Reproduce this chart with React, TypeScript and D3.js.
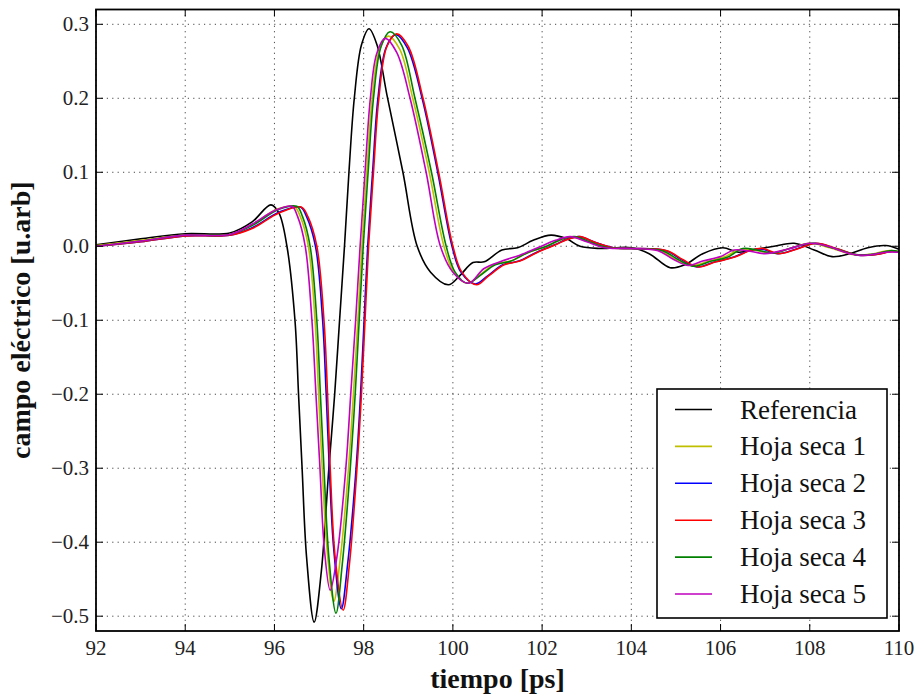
import React from "react";
import * as d3 from "d3";

const W = 918;
const H = 696;

const xTicks = [92, 94, 96, 98, 100, 102, 104, 106, 108, 110];
const yTicks = [0.3, 0.2, 0.1, 0.0, -0.1, -0.2, -0.3, -0.4, -0.5];

const seriesNames = ["Referencia", "Hoja seca 1", "Hoja seca 2", "Hoja seca 3", "Hoja seca 4", "Hoja seca 5"];
const seriesColors = ["#000000", "#bfbf00", "#0000ff", "#ff0000", "#008000", "#bf00bf"];

const referencia: [number, number][] = [
  [92, 0.002], [93, 0.010], [94, 0.017], [95, 0.018], [95.5, 0.033], [95.92, 0.056], [96.1, 0.045],
  [96.28, 0.0], [96.46, -0.1], [96.54, -0.2], [96.62, -0.3], [96.72, -0.42], [96.89, -0.508], [97.05, -0.44],
  [97.22, -0.3], [97.35, -0.2], [97.46, -0.1], [97.57, 0.0], [97.67, 0.1], [97.79, 0.2], [97.95, 0.272],
  [98.12, 0.294], [98.3, 0.272], [98.52, 0.205], [98.88, 0.1], [99.2, 0.0], [99.5, -0.035], [99.9, -0.052],
  [100.15, -0.04], [100.45, -0.022], [100.7, -0.021], [101.1, -0.005], [101.45, -0.002], [101.8, 0.008],
  [102.2, 0.015], [102.55, 0.01], [102.85, 0.0], [103.3, -0.003], [104.0, -0.002], [104.4, -0.01],
  [104.87, -0.029], [105.2, -0.025], [105.6, -0.01], [106.05, -0.002], [106.4, -0.008], [106.8, -0.004],
  [107.2, 0.0], [107.65, 0.004], [108.1, -0.005], [108.5, -0.014], [108.9, -0.01], [109.3, -0.002],
  [109.7, 0.001], [110, -0.004],
];

const hoja1: [number, number][] = [
  [92, 0.001], [93, 0.008], [94, 0.015], [95, 0.016], [95.5, 0.029], [96.05, 0.05], [96.45, 0.053],
  [96.58, 0.04], [96.76, 0.0], [96.91, -0.1], [96.99, -0.2], [97.07, -0.3], [97.18, -0.41], [97.33, -0.48],
  [97.47, -0.425], [97.66, -0.3], [97.77, -0.2], [97.87, -0.1], [97.96, 0.0], [98.07, 0.1], [98.19, 0.2],
  [98.35, 0.265], [98.55, 0.284], [98.81, 0.266], [99.1, 0.2], [99.47, 0.1], [99.8, 0.0], [100.02, -0.035],
  [100.33, -0.05], [100.62, -0.038], [100.95, -0.024], [101.3, -0.02], [101.7, -0.008], [102.1, 0.0],
  [102.45, 0.009], [102.7, 0.012], [103.1, 0.005], [103.5, -0.002], [104.0, -0.003], [104.65, -0.006],
  [105.0, -0.018], [105.35, -0.026], [105.75, -0.02], [106.1, -0.014], [106.45, -0.004], [106.75, -0.005],
  [107.15, -0.009], [107.55, -0.003], [108.0, 0.004], [108.45, -0.002], [108.95, -0.011], [109.35, -0.011],
  [109.75, -0.006], [110, -0.007],
];

const hoja2: [number, number][] = [
  [92, 0.0], [93, 0.006], [94, 0.014], [95, 0.015], [95.5, 0.025], [96.1, 0.046], [96.58, 0.053],
  [96.72, 0.04], [96.92, 0.0], [97.08, -0.1], [97.16, -0.2], [97.23, -0.3], [97.33, -0.41], [97.5, -0.49],
  [97.64, -0.43], [97.83, -0.3], [97.93, -0.2], [98.01, -0.1], [98.09, 0.0], [98.2, 0.1], [98.32, 0.2],
  [98.5, 0.268], [98.72, 0.286], [98.98, 0.268], [99.31, 0.2], [99.66, 0.1], [99.98, 0.0], [100.18, -0.035],
  [100.5, -0.051], [100.78, -0.04], [101.12, -0.025], [101.48, -0.02], [101.88, -0.008], [102.28, 0.002],
  [102.58, 0.01], [102.83, 0.013], [103.2, 0.005], [103.6, -0.002], [104.0, -0.003], [104.78, -0.006],
  [105.12, -0.018], [105.47, -0.028], [105.88, -0.021], [106.28, -0.015], [106.68, -0.005], [106.93, -0.004],
  [107.28, -0.01], [107.68, -0.004], [108.12, 0.004], [108.58, -0.003], [109.08, -0.012], [109.48, -0.011],
  [109.83, -0.007], [110, -0.008],
];

const hoja3: [number, number][] = [
  [92, 0.0], [93, 0.006], [94, 0.014], [95, 0.015], [95.5, 0.024], [96.1, 0.045], [96.6, 0.053],
  [96.75, 0.04], [96.95, 0.0], [97.11, -0.1], [97.19, -0.2], [97.25, -0.3], [97.36, -0.42], [97.54, -0.492],
  [97.68, -0.43], [97.85, -0.3], [97.95, -0.2], [98.03, -0.1], [98.11, 0.0], [98.22, 0.1], [98.34, 0.2],
  [98.52, 0.27], [98.74, 0.287], [99.0, 0.27], [99.33, 0.2], [99.68, 0.1], [100.0, 0.0], [100.2, -0.035],
  [100.53, -0.052], [100.8, -0.04], [101.15, -0.025], [101.5, -0.02], [101.9, -0.008], [102.3, 0.002],
  [102.6, 0.01], [102.85, 0.013], [103.2, 0.005], [103.6, -0.002], [104.0, -0.003], [104.8, -0.006],
  [105.15, -0.018], [105.5, -0.028], [105.9, -0.021], [106.3, -0.015], [106.7, -0.005], [106.95, -0.003],
  [107.3, -0.01], [107.7, -0.004], [108.15, 0.004], [108.6, -0.003], [109.1, -0.012], [109.5, -0.011],
  [109.85, -0.007], [110, -0.008],
];

const hoja4: [number, number][] = [
  [92, 0.0], [93, 0.007], [94, 0.015], [95, 0.016], [95.5, 0.028], [96.1, 0.05], [96.5, 0.054],
  [96.63, 0.04], [96.8, 0.0], [96.95, -0.1], [97.03, -0.2], [97.11, -0.3], [97.22, -0.42], [97.38, -0.496],
  [97.52, -0.43], [97.7, -0.3], [97.81, -0.2], [97.9, -0.1], [97.99, 0.0], [98.1, 0.1], [98.22, 0.2],
  [98.39, 0.27], [98.59, 0.29], [98.85, 0.272], [99.15, 0.2], [99.52, 0.1], [99.85, 0.0], [100.05, -0.035],
  [100.32, -0.05], [100.6, -0.04], [100.95, -0.025], [101.3, -0.02], [101.7, -0.008], [102.1, 0.0],
  [102.45, 0.01], [102.73, 0.013], [103.1, 0.005], [103.5, -0.002], [104.0, -0.003], [104.7, -0.006],
  [105.05, -0.018], [105.4, -0.027], [105.8, -0.02], [106.15, -0.015], [106.5, -0.003], [106.8, -0.005],
  [107.2, -0.009], [107.6, -0.002], [108.05, 0.004], [108.5, -0.002], [109.0, -0.011], [109.4, -0.011],
  [109.8, -0.006], [110, -0.007],
];

const hoja5: [number, number][] = [
  [92, 0.0], [93, 0.007], [94, 0.015], [95, 0.016], [95.5, 0.03], [96.0, 0.048], [96.39, 0.054],
  [96.52, 0.04], [96.69, 0.0], [96.84, -0.1], [96.93, -0.2], [97.02, -0.3], [97.12, -0.41], [97.25, -0.465],
  [97.4, -0.42], [97.6, -0.3], [97.71, -0.2], [97.82, -0.1], [97.92, 0.0], [98.03, 0.1], [98.15, 0.2],
  [98.29, 0.26], [98.48, 0.281], [98.74, 0.262], [99.04, 0.2], [99.4, 0.1], [99.72, 0.0], [100.0, -0.035],
  [100.35, -0.05], [100.7, -0.03], [101.1, -0.02], [101.5, -0.012], [101.9, -0.002], [102.3, 0.008],
  [102.63, 0.013], [103.0, 0.006], [103.4, -0.002], [104.0, -0.003], [104.6, -0.006], [104.95, -0.018],
  [105.28, -0.026], [105.6, -0.02], [106.0, -0.014], [106.3, -0.005], [106.6, -0.006], [107.0, -0.01],
  [107.5, -0.004], [108.0, 0.004], [108.4, 0.0], [108.9, -0.01], [109.3, -0.012], [109.7, -0.008],
  [110, -0.008],
];

const allSeries = [referencia, hoja1, hoja2, hoja3, hoja4, hoja5];

export default function App() {
  const left = 96, right = 899, top = 9.5, bottom = 631;
  const x = d3.scaleLinear().domain([92, 110]).range([left, right]);
  const y = d3.scaleLinear().domain([-0.52, 0.32]).range([bottom, top]);
  const line = d3
    .line<[number, number]>()
    .x((d) => x(d[0]))
    .y((d) => y(d[1]))
    .curve(d3.curveCatmullRom.alpha(0.5));

  const font = "'Liberation Serif', 'Times New Roman', serif";
  const fmtY = (v: number) => (v < 0 ? "\u2212" : "") + Math.abs(v).toFixed(1);
  const tickLen = 7;

  const legX = 657, legY = 389, legW = 230, legH = 229;
  const rowH = 36.9;
  const firstRow = 409.5;

  return (
    <svg width={W} height={H} style={{ position: "absolute", left: 0, top: 0, display: "block", background: "#fff" }}>
      <rect x={0} y={0} width={W} height={H} fill="#fff" />
      <defs>
        <clipPath id="plotclip">
          <rect x={left} y={top} width={right - left} height={bottom - top} />
        </clipPath>
      </defs>
      {/* grid */}
      <g stroke="#333" strokeWidth={0.9} strokeDasharray="1.2,4.2">
        {xTicks.map((t) => (
          <line key={"gx" + t} x1={x(t)} x2={x(t)} y1={top} y2={bottom} />
        ))}
        {yTicks.map((t) => (
          <line key={"gy" + t} x1={left} x2={right} y1={y(t)} y2={y(t)} />
        ))}
      </g>
      {/* series */}
      <g clipPath="url(#plotclip)" fill="none" strokeWidth={1.6} strokeLinejoin="round">
        {allSeries.map((s, i) => (
          <path key={"s" + i} d={line(s) || ""} stroke={seriesColors[i]} />
        ))}
      </g>
      {/* ticks */}
      <g stroke="#000" strokeWidth={1}>
        {xTicks.map((t) => (
          <g key={"tx" + t}>
            <line x1={x(t)} x2={x(t)} y1={bottom} y2={bottom - tickLen} />
            <line x1={x(t)} x2={x(t)} y1={top} y2={top + tickLen} />
          </g>
        ))}
        {yTicks.map((t) => (
          <g key={"ty" + t}>
            <line x1={left} x2={left + tickLen} y1={y(t)} y2={y(t)} />
            <line x1={right} x2={right - tickLen} y1={y(t)} y2={y(t)} />
          </g>
        ))}
      </g>
      {/* spines */}
      <rect x={left} y={top} width={right - left} height={bottom - top} fill="none" stroke="#000" strokeWidth={1.8} />
      {/* tick labels */}
      <g fontFamily={font} fontSize={21} fill="#222">
        {xTicks.map((t) => (
          <text key={"lx" + t} x={x(t)} y={655} textAnchor="middle">
            {t}
          </text>
        ))}
        {yTicks.map((t) => (
          <text key={"ly" + t} x={89} y={y(t) + 6.5} textAnchor="end">
            {fmtY(t)}
          </text>
        ))}
      </g>
      {/* axis labels */}
      <text x={(left + right) / 2} y={688} textAnchor="middle" fontFamily={font} fontSize={28} fontWeight="bold" fill="#111">
        tiempo [ps]
      </text>
      <text
        transform={`translate(30, ${(top + bottom) / 2}) rotate(-90)`}
        textAnchor="middle"
        fontFamily={font}
        fontSize={28}
        fontWeight="bold"
        fill="#111"
      >
        campo eléctrico [u.arb]
      </text>
      {/* legend */}
      <rect x={legX} y={legY} width={legW} height={legH} fill="#fff" stroke="#000" strokeWidth={1.6} />
      {seriesNames.map((n, i) => (
        <g key={"leg" + i}>
          <line x1={675} x2={712} y1={firstRow + i * rowH} y2={firstRow + i * rowH} stroke={seriesColors[i]} strokeWidth={1.6} />
          <text x={740} y={firstRow + i * rowH + 9} fontFamily={font} fontSize={27} fill="#111">
            {n}
          </text>
        </g>
      ))}
    </svg>
  );
}
